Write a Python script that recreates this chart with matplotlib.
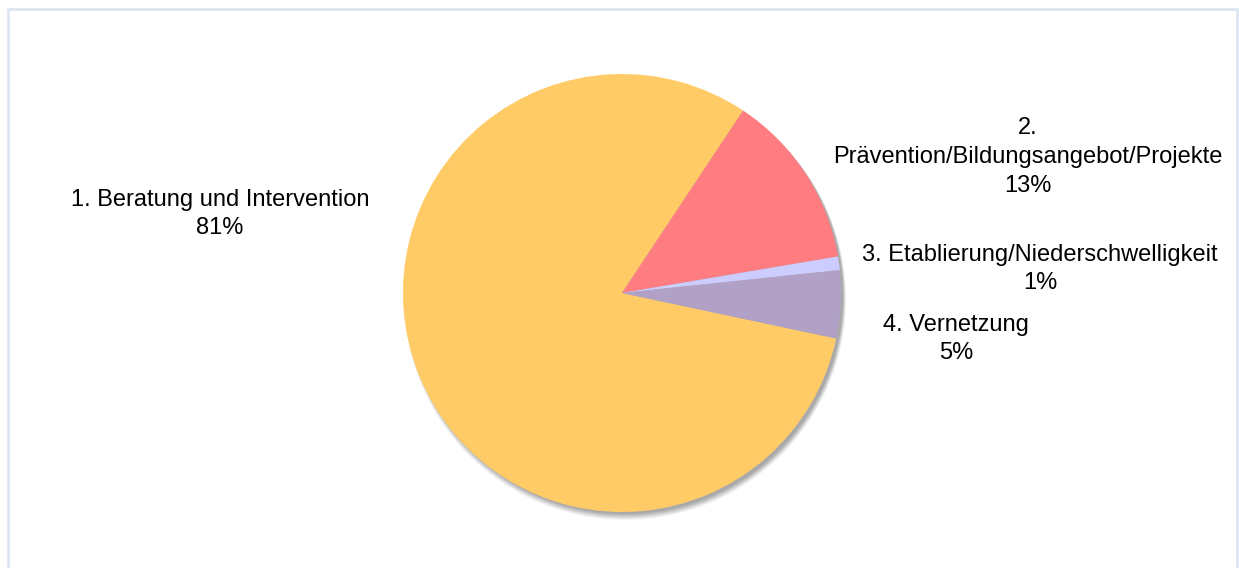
import numpy as np
import matplotlib
matplotlib.use("Agg")
import matplotlib.pyplot as plt
from matplotlib.patches import Rectangle

plt.rcParams['font.family'] = ['Liberation Sans', 'DejaVu Sans']

labels = ["1. Beratung und Intervention",
          "2.\nPrävention/Bildungsangebot/Projekte",
          "3. Etablierung/Niederschwelligkeit",
          "4. Vernetzung"]
shares = [81, 13, 1, 5]
colors = ["#FFCB66", "#FF7C80", "#CCCCFF", "#B2A1C7"]

# label anchor points in pixel coordinates (y from top)
label_xy = [(220, 214), (1028, 157), (1040, 269), (956, 339)]

W, H = 1239, 568
fig = plt.figure(figsize=(W / 100, H / 100), dpi=100)
ax = fig.add_axes([0, 0, 1, 1])

cx, cy, r = 622, H - 293, 219

# soft drop shadow under the pie
for i, a in enumerate(np.linspace(0.07, 0.16, 7)):
    off = 6 - i * 0.5
    ax.add_patch(plt.Circle((cx + 3, cy - off), r + 2 - i * 0.5,
                            color="#707070", alpha=a, lw=0, zorder=1))

ax.pie(shares, colors=colors, startangle=348, counterclock=False,
       center=(cx, cy), radius=r, frame=True,
       wedgeprops=dict(linewidth=0, zorder=2))
ax.set_xlim(0, W)
ax.set_ylim(0, H)
ax.set_aspect("equal")
ax.axis("off")

for lab, s, (x, y) in zip(labels, shares, label_xy):
    ax.text(x, H - y, f"{lab}\n{s}%", ha="center", va="center",
            fontsize=17, color="black", linespacing=1.4, zorder=3)

# light blue frame
ax.add_patch(Rectangle((8, -10), 1229, H - 9 + 10, fill=False,
                       edgecolor="#DCE6F2", lw=2, zorder=4))

fig.savefig("out.png", dpi=100)
